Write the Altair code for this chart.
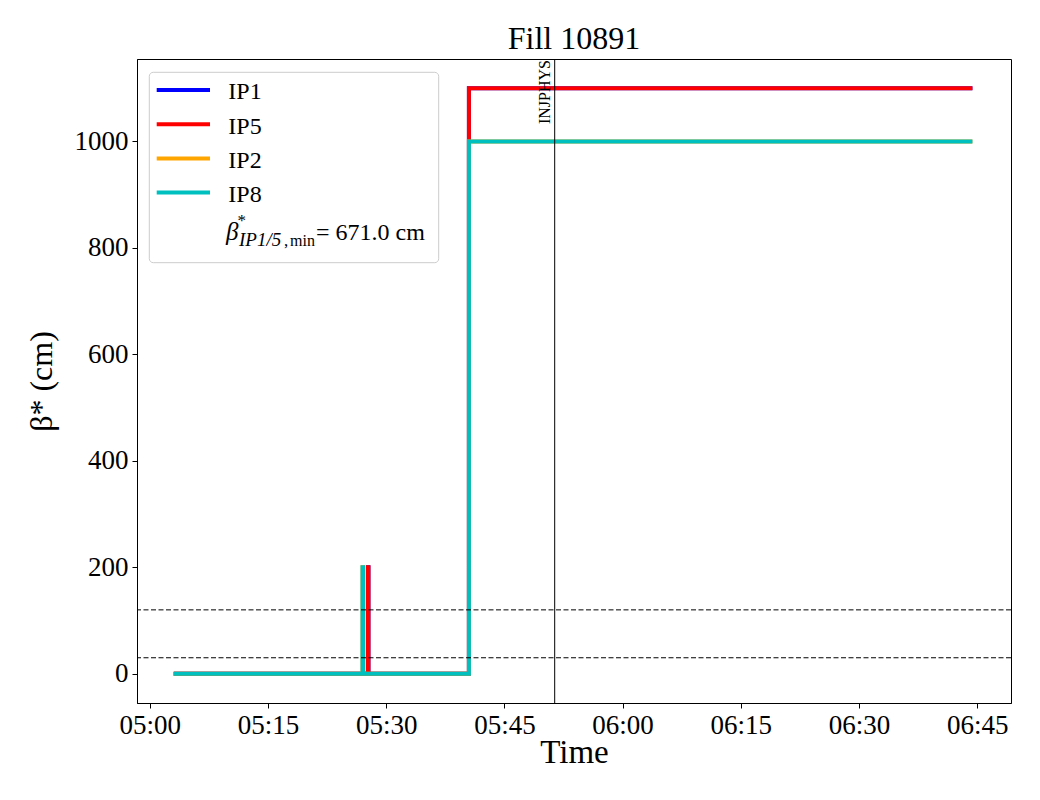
import altair as alt
import pandas as pd

SERIF = "Liberation Serif"

# ---- data ----
SERIES = ["IP1", "IP5", "IP2", "IP8"]
COLORS = ["#0000ff", "#ff0000", "#ffa500", "#00bfbf"]

TIMES_IP15 = ["2025-01-01T05:03:18", "2025-01-01T05:27:41", "2025-01-01T05:27:45",
              "2025-01-01T05:40:30", "2025-01-01T06:44:08"]
BETA_IP15 = [0, 200, 0, 1100, 1100]

TIMES_IP28 = ["2025-01-01T05:03:18", "2025-01-01T05:27:00", "2025-01-01T05:27:04",
              "2025-01-01T05:40:30", "2025-01-01T06:44:08"]
BETA_IP28 = [0, 200, 0, 1000, 1000]

HLINES = [120, 30]
MODE_TIME = ["2025-01-01T05:51:23"]
MODE_NAME = ["INJPHYS"]
Y_TICKS = [0, 200, 400, 600, 800, 1000]
X_TICK_MIN = [0, 15, 30, 45, 60, 75, 90, 105]

series_times = {"IP1": TIMES_IP15, "IP5": TIMES_IP15, "IP2": TIMES_IP28, "IP8": TIMES_IP28}
series_vals = {"IP1": BETA_IP15, "IP5": BETA_IP15, "IP2": BETA_IP28, "IP8": BETA_IP28}


def dt(h, m, s=0):
    return alt.DateTime(year=2025, month=1, date=1, hours=h, minutes=m, seconds=s)


x_scale = alt.Scale(domain=[dt(4, 58, 23), dt(6, 49, 17)])
y_scale = alt.Scale(domain=[-55, 1155], nice=False, zero=False)
x_ticks = [dt(5 + m // 60, m % 60) for m in X_TICK_MIN]

x_axis = alt.Axis(format="%H:%M", values=x_ticks, title="Time", titleY=59,
                  titleBaseline="alphabetic", titleAlign="center", titleX=437)
y_axis = alt.Axis(values=Y_TICKS, format="d", title="β* (cm)", titleAngle=270, titleX=-86,
                  titleY=322, titleBaseline="alphabetic", titleAlign="center", titleFontSize=32)

layers = []
for name, color in zip(SERIES, COLORS):
    df = pd.DataFrame({"time": series_times[name], "beta": series_vals[name]})
    layers.append(
        alt.Chart(df).mark_line(color=color, strokeWidth=4, interpolate="step-after",
                                strokeCap="square", strokeJoin="miter", clip=True)
        .encode(x=alt.X("time:T", scale=x_scale, axis=x_axis),
                y=alt.Y("beta:Q", scale=y_scale, axis=y_axis))
    )

hl = alt.Chart(pd.DataFrame({"y": HLINES})).mark_rule(
    color="black", strokeWidth=1, strokeDash=[5, 2.5]).encode(y=alt.Y("y:Q", scale=y_scale))
layers.append(hl)

mdf = pd.DataFrame({"time": MODE_TIME, "name": MODE_NAME})
layers.append(alt.Chart(mdf).mark_rule(color="black", strokeWidth=1)
              .encode(x=alt.X("time:T", scale=x_scale)))
layers.append(alt.Chart(mdf).mark_text(angle=270, align="right", baseline="alphabetic",
                                       font=SERIF, fontSize=16, color="black", dy=-5, dx=-1)
              .encode(x=alt.X("time:T", scale=x_scale), y=alt.value(0), text="name:N"))

# ---- legend (matplotlib style box, upper left) ----
one = pd.DataFrame({"a": [0]})
layers.append(alt.Chart(one).mark_rect(fill="white", fillOpacity=0.8, stroke="#cccccc",
                                       strokeWidth=1, cornerRadius=4)
              .encode(x=alt.value(12.3), x2=alt.value(301.7), y=alt.value(13.3), y2=alt.value(203.7)))
ROW0, ROWSTEP = 31.0, 34.2
for i, (name, color) in enumerate(zip(SERIES, COLORS)):
    yy = ROW0 + i * ROWSTEP
    layers.append(alt.Chart(one).mark_rule(color=color, strokeWidth=4)
                  .encode(x=alt.value(19.7), x2=alt.value(73), y=alt.value(yy)))
    layers.append(alt.Chart(one).mark_text(align="left", baseline="alphabetic", font=SERIF,
                                           fontSize=24, color="black", text=name)
                  .encode(x=alt.value(91.3), y=alt.value(yy + 9.3)))

BETA_MIN = "= 671.0 cm"
beta_parts = [
    ("β", 89, 181, 25, "italic"),
    ("*", 100.5, 167, 17, "normal"),
    ("IP1/5", 102, 187, 19, "italic"),
    (",", 147, 187, 17, "normal"),
    ("min", 153, 187, 16, "normal"),
    (BETA_MIN, 179, 181, 24, "normal"),
]
for txt, px, py, fs, st in beta_parts:
    layers.append(alt.Chart(one).mark_text(align="left", baseline="alphabetic", font=SERIF,
                                           fontSize=fs, fontStyle=st, color="black", text=txt)
                  .encode(x=alt.value(px), y=alt.value(py)))

chart = (
    alt.layer(*layers)
    .properties(width=874, height=644,
                title=alt.TitleParams("Fill 10891", font=SERIF, fontSize=32, fontWeight="normal",
                                      color="black", offset=9, baseline="alphabetic", frame="group",
                                      dy=31),
                autosize=alt.AutoSizeParams(type="none"),
                padding={"left": 129, "top": 51, "right": 20, "bottom": 70})
    .configure_view(stroke="black", strokeWidth=1)
    .configure_axis(labelFont=SERIF, labelFontSize=27, labelColor="black", tickColor="black",
                    domainColor="black", tickSize=5, tickWidth=1, domainWidth=1, grid=False,
                    titleFont=SERIF, titleFontSize=33, titleFontWeight="normal", titleColor="black",
                    labelPadding=4)
)

chart.save("out.html", embed_options={"renderer": "svg", "actions": False})
